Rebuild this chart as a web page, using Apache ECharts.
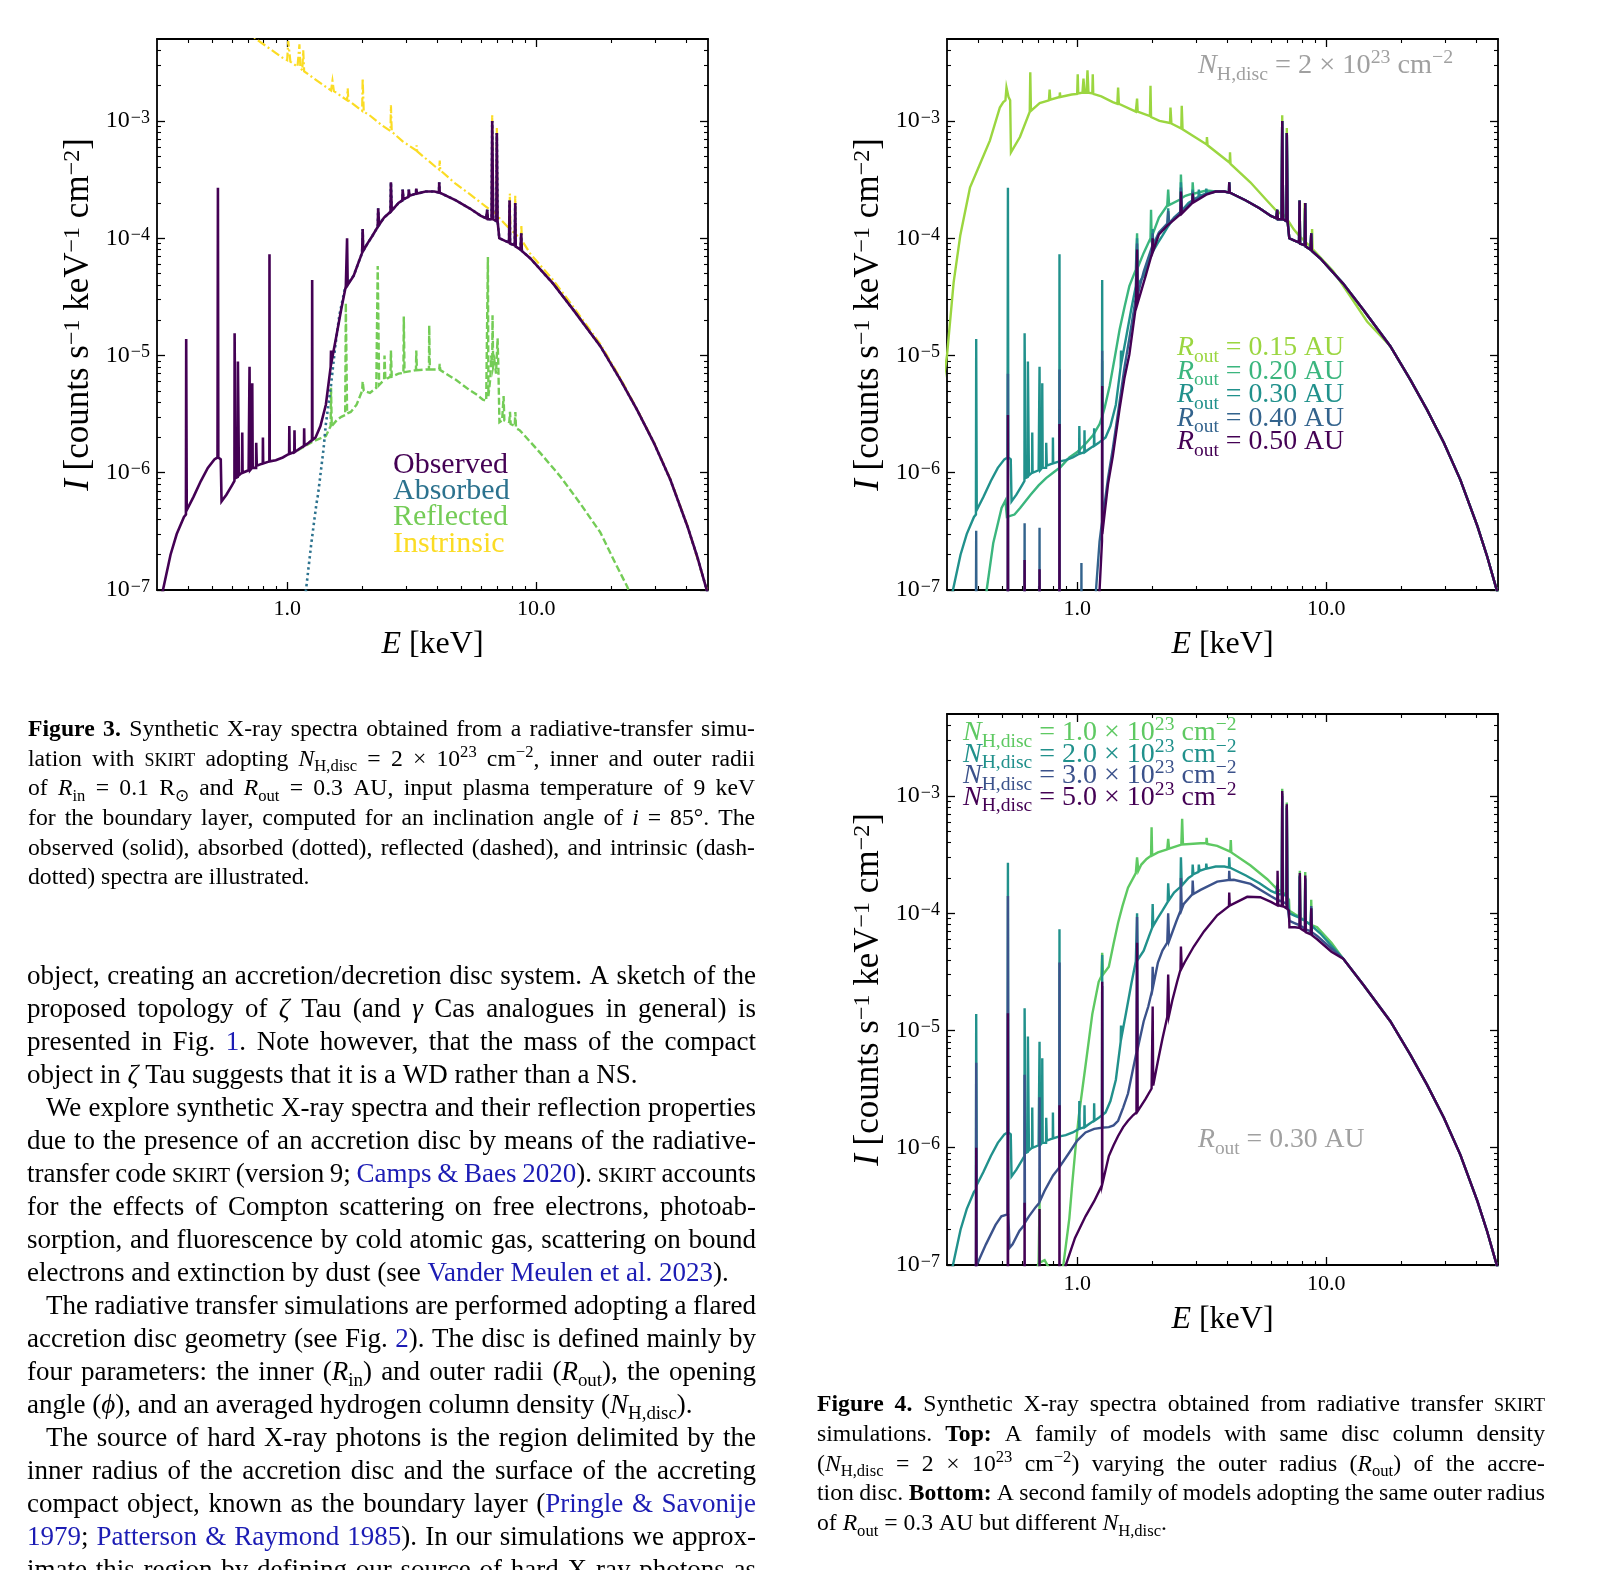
<!DOCTYPE html>
<html><head><meta charset="utf-8">
<script src="https://cdn.jsdelivr.net/npm/echarts@6/dist/echarts.min.js"></script>
<style>html,body{margin:0;padding:0;background:#fff}#c{width:1601px;height:1570px}</style>
</head><body><div id="c"></div>
<script>
// ---------------- DATA (E in keV, I in counts s^-1 keV^-1 cm^-2) ----------------
const X_TICK_LABELS = ['1.0', '10.0'];
const Y_TICK_EXP = [-7, -6, -5, -4, -3];

// Figure 3 (top-left): observed / absorbed / reflected / intrinsic
const OBS = [
[0.29,5e-8],[0.317,1.0e-7],[0.34,2.0e-7],[0.36,3.0e-7],[0.385,4.2e-7],
[0.392,4.4e-7],[0.393,1.38e-5],[0.395,4.8e-7],[0.42,6.2e-7],[0.45,8.5e-7],[0.48,1.1e-6],[0.51,1.3e-6],
[0.525,1.35e-6],[0.527,2.7e-4],[0.529,1.35e-6],[0.541,1.3e-6],[0.545,5.7e-7],[0.57,6.5e-7],[0.60,7.8e-7],
[0.614,8.5e-7],[0.615,1.55e-5],[0.62,9e-7],[0.633,9.2e-7],[0.634,8.9e-6],[0.64,9.5e-7],[0.659,1.0e-6],[0.66,2.2e-6],[0.662,1.0e-6],
[0.70,1.05e-6],[0.706,8e-6],[0.71,1.05e-6],[0.723,1.1e-6],[0.724,5.8e-6],[0.727,1.1e-6],[0.750,1.1e-6],[0.751,1.8e-6],[0.755,1.15e-6],
[0.798,1.2e-6],[0.799,2.0e-6],[0.801,1.2e-6],[0.848,1.25e-6],[0.849,7.3e-5],[0.851,1.25e-6],[0.90,1.28e-6],[0.96,1.35e-6],
[1.018,1.45e-6],[1.02,2.5e-6],[1.023,1.45e-6],[1.068,1.5e-6],[1.07,2.3e-6],[1.073,1.5e-6],[1.12,1.6e-6],[1.168,1.7e-6],[1.17,2.4e-6],[1.173,1.7e-6],
[1.22,1.8e-6],[1.258,1.9e-6],[1.26,4.4e-5],[1.263,1.9e-6],[1.30,2.0e-6],[1.36,2.5e-6],[1.43,3.8e-6],[1.495,8e-6],[1.50,1.1e-5],[1.51,9e-6],
[1.57,1.4e-5],[1.65,2.5e-5],[1.72,3.9e-5],[1.74,1.0e-4],[1.75,4.0e-5],[1.85,4.8e-5],[1.95,6.5e-5],[2.00,7.5e-5],[2.01,1.2e-4],[2.02,7.8e-5],
[2.10,9e-5],[2.20,1.05e-4],[2.31,1.25e-4],[2.32,1.8e-4],[2.34,1.3e-4],[2.45,1.5e-4],[2.60,1.68e-4],[2.61,3.0e-4],[2.63,1.72e-4],
[2.80,2.0e-4],[2.90,2.1e-4],[2.91,2.6e-4],[2.93,2.15e-4],[3.07,2.25e-4],[3.08,2.6e-4],[3.10,2.3e-4],[3.29,2.4e-4],[3.30,2.65e-4],[3.32,2.4e-4],
[3.6,2.5e-4],[3.9,2.5e-4],[4.07,2.45e-4],[4.08,3.0e-4],[4.10,2.45e-4],[4.76,2.1e-4],[5.4,1.8e-4],[6.0,1.55e-4],
[6.3,1.48e-4],[6.36,1.75e-4],[6.40,1.45e-4],[6.62,1.45e-4],[6.66,1.0e-3],[6.72,1.45e-4],[6.92,1.4e-4],[6.95,7.9e-4],[7.0,1.4e-4],
[7.08,1.35e-4],[7.11,1.0e-4],[7.5,9.5e-5],[7.78,9.2e-5],[7.82,2.1e-4],[7.86,9e-5],[8.2,8.7e-5],[8.24,2.0e-4],[8.28,8.5e-5],
[8.65,8.0e-5],[8.71,1.1e-4],[8.76,7.8e-5],[9.46,6.75e-5],[11.7,4.1e-5],[14.1,2.45e-5],[18.1,1.2e-5],[21.8,6.2e-6],[25.4,3.45e-6],
[29.7,1.8e-6],[34.6,8.7e-7],[40.5,3.5e-7],[44.3,1.94e-7],[48,1.07e-7],[50,8e-8]];

// absorbed: own values below ~1.8 keV, above that it coincides with the observed spectrum
const ABS_LOW = [
[1.15,5e-8],[1.19,1e-7],[1.25,2.5e-7],[1.31,5.4e-7],[1.33,6.5e-7],[1.35,6.3e-7],[1.40,1.6e-6],[1.43,2.6e-6],[1.50,5.6e-6],
[1.56,1.2e-5],[1.62,2.2e-5],[1.70,3.6e-5],[1.78,4.3e-5]];

const REF = [
[1.10,1.55e-6],[1.27,1.85e-6],[1.35,1.95e-6],[1.43,2.05e-6],[1.48,2.4e-6],[1.495,2.5e-6],[1.50,5.3e-6],[1.51,2.5e-6],[1.58,2.8e-6],
[1.65,3.0e-6],[1.71,3.1e-6],[1.72,2.8e-5],[1.74,3.2e-6],[1.80,3.3e-6],[1.90,3.8e-6],[2.0,5.0e-6],[2.01,6.0e-6],[2.03,5.0e-6],
[2.15,4.8e-6],[2.28,5.3e-6],[2.31,5.8e-5],[2.34,5.6e-6],[2.45,6.2e-6],[2.46,1.0e-5],[2.48,6.2e-6],[2.60,6.6e-6],[2.61,1.1e-5],
[2.63,6.6e-6],[2.80,7.0e-6],[2.93,7.1e-6],[2.94,2.15e-5],[2.96,7.2e-6],[3.2,7.4e-6],[3.29,7.5e-6],[3.30,1.1e-5],[3.32,7.5e-6],
[3.6,7.6e-6],[3.71,7.6e-6],[3.72,1.8e-5],[3.74,7.6e-6],[4.08,7.6e-6],[4.10,8.5e-6],[4.12,7.5e-6],[4.76,6.2e-6],[5.38,5.1e-6],
[5.8,4.6e-6],[6.11,4.2e-6],[6.3,4.1e-6],[6.38,4.0e-6],[6.40,6.9e-5],[6.43,4.5e-6],[6.55,6.5e-6],[6.6,1.0e-5],[6.66,8e-6],
[6.68,2.2e-5],[6.72,8e-6],[6.8,9e-6],[6.9,7e-6],[6.95,1.0e-5],[7.0,1.4e-5],[7.05,8e-6],[7.08,5e-6],[7.12,2.7e-6],[7.3,2.8e-6],
[7.4,4.5e-6],[7.45,2.8e-6],[7.8,2.7e-6],[7.85,3.3e-6],[7.9,2.6e-6],[8.2,2.5e-6],[8.25,3.3e-6],[8.3,2.4e-6],[8.6,2.3e-6],
[10.4,1.47e-6],[12.5,9.3e-7],[15.0,5.5e-7],[18.1,3.1e-7],[20.5,1.8e-7],[23.2,1.07e-7],[24.0,9e-8]];

const INTR = [
[0.60,7.5e-3],[0.75,5.0e-3],[0.96,3.45e-3],[1.0,3.3e-3],[1.01,4.8e-3],[1.03,3.2e-3],[1.10,2.9e-3],[1.12,4.5e-3],[1.13,2.85e-3],
[1.15,2.7e-3],[1.16,4.0e-3],[1.17,2.65e-3],[1.30,2.25e-3],[1.50,1.82e-3],[1.52,2.2e-3],[1.54,1.8e-3],[1.74,1.5e-3],[1.75,1.9e-3],
[1.76,1.5e-3],[2.0,1.22e-3],[2.01,2.3e-3],[2.03,1.2e-3],[2.14,1.12e-3],[2.4,9.2e-4],[2.60,8.2e-4],[2.61,1.36e-3],[2.63,8.1e-4],
[2.91,6.7e-4],[3.3,5.6e-4],[3.31,6.2e-4],[3.33,5.5e-4],[3.95,4.05e-4],[4.08,3.85e-4],[4.1,4.6e-4],[4.12,3.8e-4],[4.76,2.9e-4],
[5.38,2.4e-4],[6.28,1.86e-4],[6.64,1.7e-4],[6.66,1.12e-3],[6.70,1.7e-4],[6.93,1.6e-4],[6.95,8.7e-4],[6.98,1.55e-4],[7.82,1.2e-4],
[7.84,2.4e-4],[7.88,1.18e-4],[8.22,1.1e-4],[8.24,2.3e-4],[8.28,1.08e-4],[8.7,9.8e-5],[8.72,1.3e-4],[8.76,9.6e-5],[9.46,7.4e-5],
[11.7,4.4e-5],[14.1,2.6e-5],[18.1,1.25e-5],[21.8,6.4e-6],[25.4,3.5e-6],[29.7,1.82e-6],[34.6,8.8e-7],[40.5,3.55e-7],[48,1.08e-7],[50,8.1e-8]];

// Figure 4 top: R_out family (0.30 AU is the Fig. 3 observed spectrum)
const R_OUT = ['0.15', '0.20', '0.30', '0.40', '0.50'];
const R15 = [
[0.29,6e-6],[0.30,1.0e-5],[0.319,4.2e-5],[0.339,1.05e-4],[0.371,2.7e-4],[0.407,4.3e-4],[0.446,6.8e-4],[0.489,1.3e-3],[0.505,1.45e-3],
[0.515,1.5e-3],[0.52,1.93e-3],[0.53,1.6e-3],[0.538,1.5e-3],[0.542,5.4e-4],[0.589,7.3e-4],[0.645,1.2e-3],[0.648,2.6e-3],[0.652,1.22e-3],
[0.707,1.42e-3],[0.77,1.5e-3],[0.775,1.85e-3],[0.78,1.52e-3],[0.85,1.6e-3],[0.852,1.75e-3],[0.856,1.6e-3],[0.95,1.68e-3],[1.00,1.7e-3],
[1.005,2.5e-3],[1.01,1.72e-3],[1.05,1.74e-3],[1.06,2.3e-3],[1.07,1.74e-3],[1.09,1.74e-3],[1.10,2.7e-3],[1.11,1.74e-3],[1.15,1.72e-3],
[1.155,2.5e-3],[1.16,1.7e-3],[1.25,1.62e-3],[1.39,1.45e-3],[1.45,1.4e-3],[1.46,1.93e-3],[1.47,1.4e-3],[1.72,1.2e-3],[1.74,1.55e-3],
[1.75,1.2e-3],[1.96,1.1e-3],[1.97,2.0e-3],[1.98,1.08e-3],[2.14,1.0e-3],[2.36,9.6e-4],[2.37,1.3e-3],[2.39,9.5e-4],[2.62,8.6e-4],
[2.63,1.35e-3],[2.65,8.5e-4],[3.0,7.2e-4],[3.31,6.3e-4],[3.32,7.3e-4],[3.34,6.2e-4],[4.10,4.4e-4],[4.11,5.4e-4],[4.13,4.3e-4],
[4.96,3.0e-4],[5.78,2.1e-4],[6.34,1.7e-4],[6.64,1.6e-4],[6.66,1.12e-3],[6.70,1.6e-4],[6.93,1.5e-4],[6.95,8.7e-4],[6.98,1.45e-4],
[7.41,1.19e-4],[7.79,1.05e-4],[7.81,2.1e-4],[7.85,1.03e-4],[8.18,9.5e-5],[8.2,2.0e-4],[8.24,9.3e-5],[8.74,8.3e-5],[8.78,1.2e-4],
[8.82,8.1e-5],[10.7,5.2e-5],[12.5,3.2e-5],[14.6,1.95e-5]];
const R20_LOW = [
[0.42,6e-8],[0.433,1e-7],[0.46,2.5e-7],[0.497,5e-7],[0.515,5.8e-7],[0.522,4.2e-7],[0.56,4.4e-7],[0.59,5.0e-7],[0.65,6.5e-7],
[0.70,7.8e-7],[0.75,9e-7],[0.80,1.0e-6],[0.848,1.1e-6],[0.849,3.5e-6],[0.852,1.1e-6],[0.93,1.35e-6],[1.0,1.5e-6],[1.09,1.8e-6],
[1.16,2.1e-6],[1.23,2.6e-6],[1.258,3.0e-6],[1.26,9e-6],[1.265,3.1e-6],[1.29,3.6e-6],[1.35,5.5e-6],[1.42,1.0e-5],[1.48,1.66e-5],
[1.55,2.6e-5],[1.62,3.9e-5],[1.72,5.4e-5],[1.74,1.1e-4],[1.75,5.6e-5],[1.85,7.5e-5],[1.97,1.0e-4],[1.98,1.75e-4],[1.99,1.02e-4],
[2.13,1.5e-4],[2.3,1.9e-4],[2.32,2.6e-4],[2.34,1.92e-4],[2.60,2.15e-4],[2.61,3.5e-4],[2.63,2.2e-4],[2.72,2.3e-4],[2.90,2.4e-4],
[2.91,3.0e-4],[2.93,2.4e-4],[3.3,2.55e-4]];
const R40_LOW = [
[0.392,5e-8],[0.393,3.2e-7],[0.394,5e-8],[0.526,5e-8],[0.527,7e-6],[0.528,5e-8],[0.614,5e-8],[0.615,3.7e-7],[0.616,5e-8],
[0.705,5e-8],[0.706,3.4e-7],[0.707,5e-8],[0.848,5e-8],[0.849,7.6e-6],[0.850,5e-8],[1.039,5e-8],[1.04,1.7e-7],[1.041,5e-8],
[1.17,5e-8],[1.19,1e-7],[1.23,2.6e-7],[1.258,3.8e-7],[1.26,1.1e-5],[1.262,4e-7],[1.27,4.3e-7],[1.33,9e-7],[1.39,1.6e-6],
[1.48,4.0e-6],[1.55,8e-6],[1.62,1.4e-5],[1.72,3.1e-5],[1.74,9e-5],[1.75,3.3e-5],[1.85,5.2e-5],[2.0,8.5e-5],[2.01,1.1e-4],
[2.02,8.8e-5],[2.13,1.12e-4],[2.3,1.33e-4],[2.32,1.7e-4],[2.34,1.35e-4],[2.6,1.68e-4],[2.61,2.7e-4],[2.63,1.7e-4],[2.90,2.05e-4],
[2.91,2.5e-4],[2.93,2.1e-4],[3.3,2.4e-4]];
const R50_LOW = [
[0.526,5e-8],[0.527,3.1e-6],[0.528,5e-8],[0.614,5e-8],[0.615,1.8e-7],[0.616,5e-8],[0.705,5e-8],[0.706,1.5e-7],[0.707,5e-8],
[0.848,5e-8],[0.849,2.6e-6],[0.850,5e-8],[1.21,5e-8],[1.23,1e-7],[1.258,2.6e-7],[1.26,5.5e-6],[1.262,3e-7],[1.27,3.4e-7],
[1.33,8e-7],[1.39,1.38e-6],[1.48,3.5e-6],[1.55,6.5e-6],[1.62,1.02e-5],[1.72,2.6e-5],[1.74,8e-5],[1.75,2.8e-5],[1.89,4.9e-5],
[2.0,7.5e-5],[2.01,1.0e-4],[2.02,7.8e-5],[2.13,1.08e-4],[2.3,1.28e-4],[2.6,1.6e-4],[2.61,2.5e-4],[2.63,1.62e-4],[2.90,2.0e-4],
[2.91,2.4e-4],[2.93,2.02e-4],[3.3,2.35e-4]];

// Figure 4 bottom: N_H,disc family (2.0 is the Fig. 3 observed spectrum)
const NH_DISC = ['1.0', '2.0', '3.0', '5.0'];
const NH1 = [
[0.66,6e-8],[0.68,8e-8],[0.70,1.05e-7],[0.704,1.05e-7],[0.706,3.5e-7],[0.708,1.05e-7],[0.74,1.1e-7],[0.78,9e-8],[0.85,8e-8],
[0.88,1.0e-7],[0.93,2.5e-7],[0.955,4.9e-7],[0.985,1.0e-6],[1.015,1.86e-6],[1.05,3.2e-6],[1.08,5e-6],[1.12,9e-6],[1.15,1.38e-5],
[1.22,2.6e-5],[1.25,2.9e-5],[1.26,4.6e-5],[1.27,3.0e-5],[1.34,3.5e-5],[1.40,5.5e-5],[1.46,8.3e-5],[1.52,1.15e-4],[1.60,1.65e-4],
[1.72,2.2e-4],[1.74,3.0e-4],[1.76,2.3e-4],[1.81,2.6e-4],[1.90,2.9e-4],[1.98,3.1e-4],[1.99,5.4e-4],[2.0,3.1e-4],[2.11,3.3e-4],
[2.3,3.5e-4],[2.32,4.3e-4],[2.34,3.55e-4],[2.62,3.85e-4],[2.64,6.4e-4],[2.66,3.85e-4],[3.13,3.95e-4],[3.3,3.95e-4],[3.31,4.4e-4],
[3.33,3.9e-4],[3.65,3.75e-4],[4.12,3.35e-4],[4.14,4.2e-4],[4.16,3.3e-4],[4.97,2.55e-4],[5.8,1.95e-4],[6.36,1.6e-4],[6.64,1.52e-4],
[6.66,1.15e-3],[6.70,1.5e-4],[6.93,1.42e-4],[6.95,8.8e-4],[6.98,1.38e-4],[7.09,1.3e-4],[7.12,1.05e-4],[7.5,9.8e-5],[7.82,9.3e-5],
[7.84,2.3e-4],[7.88,9.2e-5],[8.22,8.6e-5],[8.24,2.25e-4],[8.28,8.5e-5],[8.68,8.0e-5],[8.71,1.3e-4],[8.76,7.9e-5],[9.2,7.6e-5],[10.5,5.6e-5]];
const NH3 = [
[0.380,6e-8],[0.392,9e-8],[0.393,5.3e-6],[0.395,1e-7],[0.43,1.5e-7],[0.47,2.2e-7],[0.496,2.6e-7],[0.525,2.7e-7],[0.527,1.4e-4],
[0.529,2.7e-7],[0.535,1.4e-7],[0.55,1.5e-7],[0.586,1.95e-7],[0.614,2.2e-7],[0.615,4.2e-6],[0.617,2.3e-7],[0.64,2.6e-7],[0.68,3.1e-7],
[0.705,3.4e-7],[0.706,2.7e-6],[0.708,3.5e-7],[0.74,4.3e-7],[0.80,5.8e-7],[0.848,6.8e-7],[0.849,3.8e-5],[0.851,6.9e-7],[0.93,9.1e-7],
[1.0,1.15e-6],[1.08,1.35e-6],[1.17,1.45e-6],[1.258,1.48e-6],[1.26,2.4e-5],[1.262,1.48e-6],[1.34,1.5e-6],[1.40,1.55e-6],[1.46,1.7e-6],
[1.53,2.2e-6],[1.60,2.9e-6],[1.68,4.8e-6],[1.73,6.5e-6],[1.74,9.3e-5],[1.75,7e-6],[1.85,1.2e-5],[1.93,1.6e-5],[2.00,2.2e-5],
[2.01,3.5e-5],[2.02,2.4e-5],[2.11,3.8e-5],[2.2,4.8e-5],[2.3,5.6e-5],[2.32,1.0e-4],[2.34,5.8e-5],[2.5,8.5e-5],[2.60,1.05e-4],
[2.61,2.0e-4],[2.63,1.08e-4],[2.68,1.2e-4],[2.9,1.45e-4],[2.91,1.9e-4],[2.93,1.46e-4],[3.13,1.58e-4],[3.65,1.86e-4],[4.07,1.92e-4],
[4.08,2.3e-4],[4.10,1.92e-4],[4.26,1.93e-4],[4.97,1.78e-4],[5.98,1.4e-4],[6.36,1.3e-4],[6.64,1.26e-4],[6.66,1.05e-3],[6.70,1.25e-4],
[6.93,1.2e-4],[6.95,8.2e-4],[6.98,1.18e-4],[7.09,1.15e-4],[7.12,8.6e-5],[7.5,8.2e-5],[7.82,7.9e-5],[7.84,2.05e-4],[7.88,7.8e-5],
[8.22,7.4e-5],[8.24,1.95e-4],[8.28,7.3e-5],[8.68,7.0e-5],[8.71,1.15e-4],[8.76,6.9e-5],[9.2,6.4e-5],[10.5,5.0e-5]];
const NH5 = [
[0.392,5e-8],[0.393,1.0e-6],[0.394,5e-8],[0.526,5e-8],[0.527,1.4e-5],[0.528,5e-8],[0.614,5e-8],[0.615,3.4e-7],[0.616,5e-8],
[0.705,5e-8],[0.706,3e-7],[0.707,5e-8],[0.848,5e-8],[0.849,2.3e-6],[0.850,5e-8],[0.88,6e-8],[0.90,1e-7],[0.98,1.7e-7],[1.08,2.6e-7],
[1.17,3.5e-7],[1.258,4.8e-7],[1.26,2.6e-5],[1.262,4.9e-7],[1.34,8.5e-7],[1.40,1.05e-6],[1.46,1.26e-6],[1.53,1.5e-6],[1.60,1.7e-6],
[1.68,1.9e-6],[1.73,2.0e-6],[1.74,5.6e-5],[1.75,2.05e-6],[1.88,2.6e-6],[1.99,3.2e-6],[2.01,1.6e-5],[2.02,3.4e-6],[2.11,5.5e-6],
[2.2,8.5e-6],[2.3,1.3e-5],[2.32,3e-5],[2.34,1.35e-5],[2.41,1.8e-5],[2.52,2.6e-5],[2.60,3.3e-5],[2.61,5.2e-5],[2.63,3.4e-5],
[2.7,3.8e-5],[2.94,5.2e-5],[3.23,7.0e-5],[3.65,9.6e-5],[4.07,1.15e-4],[4.08,1.5e-4],[4.10,1.16e-4],[4.82,1.38e-4],[5.44,1.37e-4],
[6.0,1.25e-4],[6.36,1.17e-4],[6.38,2.3e-4],[6.42,1.17e-4],[6.64,1.15e-4],[6.66,1.1e-3],[6.70,1.15e-4],[6.93,1.1e-4],[6.95,8.5e-4],
[6.98,1.1e-4],[7.09,1.05e-4],[7.12,7.6e-5],[7.5,7.6e-5],[7.82,7.5e-5],[7.84,2.2e-4],[7.88,7.4e-5],[8.22,7.0e-5],[8.24,2.1e-4],
[8.28,6.9e-5],[8.68,6.6e-5],[8.71,1.1e-4],[8.76,6.5e-5],[9.2,6.0e-5],[10.5,4.7e-5]];

// ---------------- TEXT ----------------
const LEG1 = ['Observed', 'Absorbed', 'Reflected', 'Instrinsic'];
const CAP3 = [
['{b|Figure 3.} Synthetic X-ray spectra obtained from a radiative-transfer simu-',''],
['lation with {sc|skirt} adopting {i|N}{sub|H,disc} = 2 × 10{sup|23} cm{sup|−2}, inner and outer radii',''],
['of {i|R}{sub|in} = 0.1 R{sub|⊙} and {i|R}{sub|out} = 0.3 AU, input plasma temperature of 9 keV',''],
['for the boundary layer, computed for an inclination angle of {i|i} = 85°. The',''],
['observed (solid), absorbed (dotted), reflected (dashed), and intrinsic (dash-',''],
['dotted) spectra are illustrated.','e']];
const BODY = [
['object, creating an accretion/decretion disc system. A sketch of the',''],
['proposed topology of {i|ζ} Tau (and {i|γ} Cas analogues in general) is',''],
['presented in Fig. {a|1}. Note however, that the mass of the compact',''],
['object in {i|ζ} Tau suggests that it is a WD rather than a NS.','e'],
['We explore synthetic X-ray spectra and their reflection properties','p'],
['due to the presence of an accretion disc by means of the radiative-',''],
['transfer code {sc|skirt} (version 9; {a|Camps & Baes 2020}). {sc|skirt} accounts',''],
['for the effects of Compton scattering on free electrons, photoab-',''],
['sorption, and fluorescence by cold atomic gas, scattering on bound',''],
['electrons and extinction by dust (see {a|Vander Meulen et al. 2023}).','e'],
['The radiative transfer simulations are performed adopting a flared','p'],
['accretion disc geometry (see Fig. {a|2}). The disc is defined mainly by',''],
['four parameters: the inner ({i|R}{sub|in}) and outer radii ({i|R}{sub|out}), the opening',''],
['angle ({i|ϕ}), and an averaged hydrogen column density ({i|N}{sub|H,disc}).','e'],
['The source of hard X-ray photons is the region delimited by the','p'],
['inner radius of the accretion disc and the surface of the accreting',''],
['compact object, known as the boundary layer ({a|Pringle & Savonije}',''],
['{a|1979}; {a|Patterson & Raymond 1985}). In our simulations we approx-',''],
['imate this region by defining our source of hard X-ray photons as','']];
const CAP4 = [
['{b|Figure 4.} Synthetic X-ray spectra obtained from radiative transfer {sc|skirt}',''],
['simulations. {b|Top:} A family of models with same disc column density',''],
['({i|N}{sub|H,disc} = 2 × 10{sup|23} cm{sup|−2}) varying the outer radius ({i|R}{sub|out}) of the accre-',''],
['tion disc. {b|Bottom:} A second family of models adopting the same outer radius',''],
['of {i|R}{sub|out} = 0.3 AU but different {i|N}{sub|H,disc}.','e']];

// ---------------- BUILD ----------------
const L10 = Math.log10;
const FONT = '"Liberation Serif", "Times New Roman", serif';
const XR = [L10(0.3), L10(49)];
const YR = [-7, L10(5e-3)];
const X_MAJOR = [0, 1];
const X_MINOR = [], Y_MINOR = [];
for (let n = -1; n <= 1; n++) for (let k = 2; k <= 9; k++) { const v = n + L10(k); if (v > XR[0] + 1e-6 && v < XR[1]) X_MINOR.push(v); }
for (let n = -7; n <= -3; n++) for (let k = 2; k <= 9; k++) { const v = n + L10(k); if (v < YR[1] - 1e-6) Y_MINOR.push(v); }

const OBS_HARD = OBS.filter(p => p[0] >= 3.5);
const TAIL = OBS.filter(p => p[0] >= 11);
const ABS = ABS_LOW.concat(OBS.filter(p => p[0] >= 1.85));
const R15_FULL = R15.concat(OBS.filter(p => p[0] >= 18));

const C1 = ['#440154', '#2c728e', '#74cc56', '#fbdc24'];
const C2 = ['#9bd640', '#3bb67e', '#21918c', '#33638d', '#440154'];
const C3 = ['#5ec962', '#21918c', '#3b528b', '#440154'];
const GRAY = '#a0a0a0';

const GRIDS = [{left: 157, top: 39}, {left: 947, top: 39}, {left: 947, top: 714}];
const GW = 551, GH = 551;

const TICK_RICH = {
  n: {fontFamily: FONT, fontSize: 24, color: '#000', verticalAlign: 'bottom', lineHeight: 24},
  sup: {fontFamily: FONT, fontSize: 18, color: '#000', verticalAlign: 'top', lineHeight: 18, padding: [0, 0, 10, 1]}
};
const XNAME_RICH = {
  i: {fontFamily: FONT, fontSize: 32, fontStyle: 'italic', color: '#000', verticalAlign: 'bottom', lineHeight: 32},
  n: {fontFamily: FONT, fontSize: 32, color: '#000', verticalAlign: 'bottom', lineHeight: 32}
};
const YNAME_RICH = {
  i: {fontFamily: FONT, fontSize: 35, fontStyle: 'italic', color: '#000', verticalAlign: 'bottom', lineHeight: 35},
  n: {fontFamily: FONT, fontSize: 35, color: '#000', verticalAlign: 'bottom', lineHeight: 35},
  sup: {fontFamily: FONT, fontSize: 24, color: '#000', verticalAlign: 'top', lineHeight: 24, padding: [0, 0, 14, 0]}
};

const xAxes = [], yAxes = [];
GRIDS.forEach((g, gi) => {
  const base = {gridIndex: gi, type: 'value', splitLine: {show: false}, splitArea: {show: false}, nameMoveOverlap: false};
  const line = {show: true, onZero: false, lineStyle: {color: '#000', width: 1.8}};
  const noline = {show: false, onZero: false};
  const tMaj = v => ({show: true, inside: true, length: 8, customValues: v, lineStyle: {color: '#000', width: 1.3}});
  const tMin = v => ({show: true, inside: true, length: 4, customValues: v, lineStyle: {color: '#000', width: 1.1}});
  const xr = {min: XR[0], max: XR[1]}, yr = {min: YR[0], max: YR[1]};
  xAxes.push(
    Object.assign({}, base, xr, {position: 'bottom', axisLine: line, axisTick: tMaj(X_MAJOR),
      axisLabel: {show: true, customValues: X_MAJOR, formatter: v => X_TICK_LABELS[Math.round(v)], margin: 8,
        fontFamily: FONT, fontSize: 22, color: '#000'},
      name: '{i|E} {n|[keV]}', nameLocation: 'middle', nameGap: 39, nameTextStyle: {rich: XNAME_RICH, fontFamily: FONT, fontSize: 32}}),
    Object.assign({}, base, xr, {position: 'bottom', axisLine: noline, axisTick: tMin(X_MINOR), axisLabel: {show: false}}),
    Object.assign({}, base, xr, {position: 'top', axisLine: line, axisTick: tMaj(X_MAJOR), axisLabel: {show: false}}),
    Object.assign({}, base, xr, {position: 'top', axisLine: noline, axisTick: tMin(X_MINOR), axisLabel: {show: false}})
  );
  yAxes.push(
    Object.assign({}, base, yr, {position: 'left', axisLine: line, axisTick: tMaj(Y_TICK_EXP),
      axisLabel: {show: true, customValues: Y_TICK_EXP, formatter: v => '{n|10}{sup|−' + Math.abs(Math.round(v)) + '}',
        margin: 7, rich: TICK_RICH, fontFamily: FONT, fontSize: 24, color: '#000'},
      name: '{i|I} {n|[counts s}{sup|−1}{n| keV}{sup|−1}{n| cm}{sup|−2}{n|]}', nameLocation: 'middle', nameGap: 61, nameRotate: 90,
      nameTextStyle: {rich: YNAME_RICH, fontFamily: FONT, fontSize: 35}}),
    Object.assign({}, base, yr, {position: 'left', axisLine: noline, axisTick: tMin(Y_MINOR), axisLabel: {show: false}}),
    Object.assign({}, base, yr, {position: 'right', axisLine: line, axisTick: tMaj(Y_TICK_EXP), axisLabel: {show: false}}),
    Object.assign({}, base, yr, {position: 'right', axisLine: noline, axisTick: tMin(Y_MINOR), axisLabel: {show: false}})
  );
});

const toLog = arr => arr.map(p => [L10(p[0]), L10(p[1])]);
let zc = 2;
function spec(name, data, gi, color, type, width) {
  return {name, type: 'line', xAxisIndex: gi * 4, yAxisIndex: gi * 4, data: toLog(data), showSymbol: false, symbol: 'none',
    lineStyle: {color, width: width || 2.4, type: type || 'solid', cap: 'butt', join: 'miter'}, itemStyle: {color},
    z: zc++, silent: true, animation: false, clip: true, emphasis: {disabled: true}};
}
const series = [
  spec('Instrinsic', INTR, 0, C1[3], [9, 3, 2, 3], 2.2),
  spec('Reflected', REF, 0, C1[2], [7, 3], 2.4),
  spec('Absorbed', ABS, 0, C1[1], [2.4, 3.2], 2.6),
  spec('Observed', OBS, 0, C1[0], 'solid', 2.6),
  spec('Rout 0.15', R15_FULL, 1, C2[0]),
  spec('Rout 0.20', R20_LOW.concat(OBS_HARD), 1, C2[1]),
  spec('Rout 0.30', OBS, 1, C2[2]),
  spec('Rout 0.40', R40_LOW.concat(OBS_HARD), 1, C2[3]),
  spec('Rout 0.50', R50_LOW.concat(OBS_HARD), 1, C2[4]),
  spec('NH 1.0', NH1.concat(TAIL), 2, C3[0]),
  spec('NH 2.0', OBS, 2, C3[1]),
  spec('NH 3.0', NH3.concat(TAIL), 2, C3[2]),
  spec('NH 5.0', NH5.concat(TAIL), 2, C3[3])
];

// --------- simple typesetter for captions / body / in-plot labels ---------
const mctx = document.createElement('canvas').getContext('2d');
const STY = {
  n: {s: 1}, b: {s: 1, bold: 1}, i: {s: 1, italic: 1}, sc: {s: 0.76, upper: 1},
  sub: {s: 0.7, dy: 0.22}, sup: {s: 0.7, dy: -0.38}, a: {s: 1, color: '#1c1cb4'}
};
function parseMarkup(m) {
  const out = []; const re = /\{(\w+)\|([^{}]*)\}/g; let last = 0, r;
  while ((r = re.exec(m))) { if (r.index > last) out.push({s: 'n', t: m.slice(last, r.index)}); out.push({s: r[1], t: r[2]}); last = re.lastIndex; }
  if (last < m.length) out.push({s: 'n', t: m.slice(last)});
  return out;
}
function fontOf(st, size) { return (st.italic ? 'italic ' : '') + (st.bold ? 'bold ' : '') + size.toFixed(2) + 'px ' + FONT; }
function typeset(m, o) {
  const F = o.size; const pieces = [];
  parseMarkup(m).forEach(tk => tk.t.split(/( )/).forEach(p => { if (!p) return; pieces.push(p === ' ' ? {sp: 1} : {t: p, s: tk.s}); }));
  mctx.font = fontOf(STY.n, F); const spW = mctx.measureText(' ').width;
  let nat = 0, nsp = 0;
  pieces.forEach(p => {
    if (p.sp) { p.w = spW; nsp++; }
    else { const st = STY[p.s]; p.txt = st.upper ? p.t.toUpperCase() : p.t; mctx.font = fontOf(st, F * st.s); p.w = mctx.measureText(p.txt).width; }
    nat += p.w;
  });
  const ind = o.indent || 0;
  let extra = 0;
  if (o.width && nsp) extra = Math.max((o.width - ind - nat) / nsp, -spW * 0.6);
  let x = o.x + ind; const els = [];
  pieces.forEach(p => {
    if (p.sp) { x += p.w + extra; return; }
    const st = STY[p.s]; const f = F * st.s;
    els.push({type: 'text', x: x, y: o.y + 0.3 * F + (st.dy || 0) * F - 0.3 * f, z: 100, silent: true,
      style: {text: p.txt, font: fontOf(st, f), fill: st.color || o.color || '#000',
        align: 'left', verticalAlign: 'middle', textAlign: 'left', textVerticalAlign: 'middle'}});
    x += p.w;
  });
  return els;
}
function block(lines, x, y0, dy, width, size) {
  let els = [];
  lines.forEach((L, k) => {
    els = els.concat(typeset(L[0], {x, y: y0 + dy * k, size, width: L[1] === 'e' ? 0 : width, indent: L[1] === 'p' ? 19 : 0}));
  });
  return els;
}

let G = [];
LEG1.forEach((t, k) => { G = G.concat(typeset(t, {x: 393, y: 465 + 26.3 * k, size: 30, color: C1[k]})); });
G = G.concat(typeset('{i|N}{sub|H,disc} = 2 × 10{sup|23} cm{sup|−2}', {x: 1198, y: 66, size: 28.3, color: GRAY}));
R_OUT.forEach((v, k) => { G = G.concat(typeset('{i|R}{sub|out} = ' + v + ' AU', {x: 1177, y: 348 + 23.5 * k, size: 27.8, color: C2[k]})); });
NH_DISC.forEach((v, k) => { G = G.concat(typeset('{i|N}{sub|H,disc} = ' + v + ' × 10{sup|23} cm{sup|−2}', {x: 963, y: 733 + 21.5 * k, size: 28, color: C3[k]})); });
G = G.concat(typeset('{i|R}{sub|out} = 0.30 AU', {x: 1198, y: 1140, size: 27.7, color: GRAY}));
G = G.concat(block(CAP3, 28, 730, 29.6, 727, 23.7));
G = G.concat(block(BODY, 27, 976.5, 33, 729, 27));
G = G.concat(block(CAP4, 817, 1405, 29.7, 728, 23.7));

const chart = echarts.init(document.getElementById('c'), null, {renderer: 'canvas'});
chart.setOption({
  backgroundColor: '#ffffff',
  animation: false,
  grid: GRIDS.map(g => ({left: g.left, top: g.top, width: GW, height: GH, containLabel: false, outerBoundsMode: 'none'})),
  xAxis: xAxes,
  yAxis: yAxes,
  series: series,
  graphic: {elements: G}
});
</script></body></html>
